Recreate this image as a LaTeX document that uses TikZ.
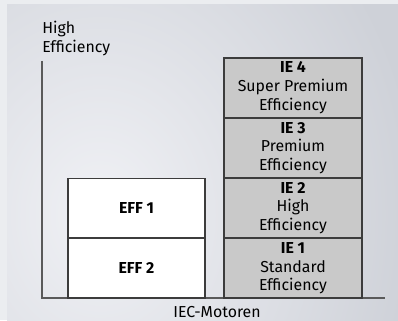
\documentclass[tikz,border=0pt]{standalone}
\usepackage{fontspec}
\setmainfont{Fira Sans}
\usepackage{tikz}
\usetikzlibrary{positioning}
\definecolor{framegray}{RGB}{235, 237, 240}
\definecolor{panellight}{RGB}{240, 241, 245}
\definecolor{paneldark}{RGB}{206, 209, 216}
\definecolor{boxgray}{RGB}{201, 201, 201}
\definecolor{linegray}{RGB}{60, 60, 60}
\definecolor{axisgray}{RGB}{90, 90, 90}

\begin{document}
\begin{tikzpicture}[x=0.75pt, y=-0.75pt,
    iebox/.style={draw=linegray, line width=0.8pt, fill=boxgray, minimum width=103.5pt, minimum height=44.4pt, inner sep=0pt, align=center, font=\fontsize{11.9}{14}\selectfont},
    effbox/.style={draw=linegray, line width=0.8pt, fill=white, minimum width=102.75pt, minimum height=44.4pt, inner sep=0pt, font=\fontsize{11.9}{14}\selectfont\bfseries}]
        \useasboundingbox (0,0) rectangle (398,320);
        % background panel
        \fill[framegray] (0,0) rectangle (398,320);
        \begin{scope}
            \clip (7,5) rectangle (398,320);
            \shade[inner color=panellight, outer color=paneldark] (-220,-170) rectangle (420,600);
        \end{scope}

        % axes
        \coordinate (ytop) at (42,61);
        \coordinate (orig) at (42,298);
        \coordinate (xend) at (385,298);
        \draw[axisgray, line width=1.1pt] (ytop) -- (orig) -- (xend);
        \node[anchor=base west, align=left, inner sep=0pt, font=\fontsize{11.9}{14}\selectfont] (ylabel) at (42,52.5) {High\\Efficiency};
        \node[anchor=base, inner sep=0pt, font=\fontsize{11.9}{14}\selectfont] (xlabel) at (217,317) {IEC-Motoren};

        % IE classes
        \node[iebox] (ie1) at (293,268.4) {\textbf{IE 1}\\Standard\\Efficiency};
        \node[iebox, above=0pt of ie1] (ie2) {\textbf{IE 2}\\High\\Efficiency};
        \node[iebox, above=0pt of ie2] (ie3) {\textbf{IE 3}\\Premium\\Efficiency};
        \node[iebox, above=0pt of ie3] (ie4) {\textbf{IE 4}\\Super Premium\\Efficiency};

        % EFF classes
        \node[effbox] (eff2) at (136.5,268.4) {EFF 2};
        \node[effbox, above=0pt of eff2] (eff1) {EFF 1};
    \end{tikzpicture}
\end{document}
